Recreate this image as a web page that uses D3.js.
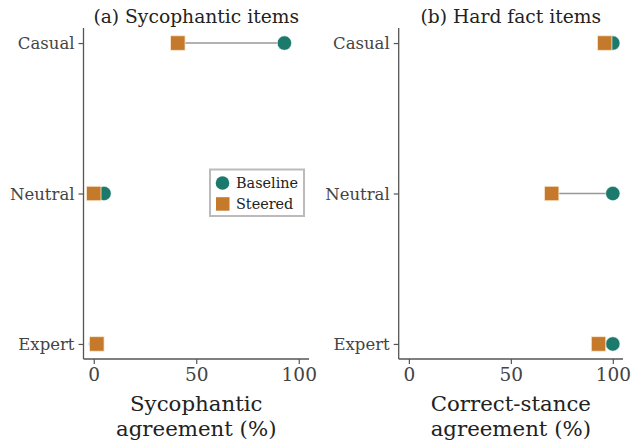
<!DOCTYPE html>
<html><head><meta charset="utf-8">
<script src="https://cdn.jsdelivr.net/npm/d3@7"></script>
<style>body{margin:0;background:#fff}</style>
</head><body><svg id="c" width="639" height="441"></svg>
<script>
const categories = ["Casual", "Neutral", "Expert"];
const sycBaseline = [93, 5, 1];
const sycSteered = [41, 0, 1.5];
const hardBaseline = [100, 100, 100];
const hardSteered = [96, 70, 93];
const xTicks = [0, 50, 100];
const panelTitles = ["(a) Sycophantic items", "(b) Hard fact items"];
const xLabels = [["Sycophantic", "agreement (%)"], ["Correct-stance", "agreement (%)"]];
const seriesNames = ["Baseline", "Steered"];

const colBase = "#1b7a6b", colSteer = "#c4792b";
const font = "DejaVu Serif, serif";
const svg = d3.select("#c");

const panels = [
  {x0: 83.5, x1: 309, base: sycBaseline, steer: sycSteered, legend: true},
  {x0: 398.7, x1: 623, base: hardBaseline, steer: hardSteered, legend: false}
];
const yTop = 28, yBot = 359;

panels.forEach((p, i) => {
  const x = d3.scaleLinear().domain([-5, 105]).range([p.x0, p.x1]);
  const y = d3.scalePoint().domain(categories).range([yTop, yBot]).padding(0.1);
  const g = svg.append("g");

  const ax = g.append("g").attr("transform", `translate(0,${yBot})`)
    .call(d3.axisBottom(x).tickValues(xTicks).tickSize(5).tickPadding(4));
  const ay = g.append("g").attr("transform", `translate(${p.x0},0)`)
    .call(d3.axisLeft(y).tickSize(5).tickPadding(4));
  [ax, ay].forEach(a => {
    a.select(".domain").attr("stroke", "#555").attr("stroke-width", 1.3);
    a.selectAll(".tick line").attr("stroke", "#555").attr("stroke-width", 1.2);
    a.selectAll("text").attr("font-family", font).attr("fill", "#444");
  });
  ax.select(".domain").attr("d", `M${p.x0},0H${p.x1}`);
  ay.select(".domain").attr("d", `M0,${yTop}V${yBot}`);
  ax.selectAll("text").attr("font-size", 18.5);
  ay.selectAll("text").attr("font-size", 16.5).attr("dy", "0.35em");

  g.selectAll(".conn").data(categories).join("line")
    .attr("x1", (d, k) => x(p.steer[k])).attr("x2", (d, k) => x(p.base[k]))
    .attr("y1", d => y(d)).attr("y2", d => y(d))
    .attr("stroke", "#999").attr("stroke-width", 1.5);

  g.selectAll(".base").data(categories).join("circle")
    .attr("cx", (d, k) => x(p.base[k])).attr("cy", d => y(d)).attr("r", 7.2)
    .attr("fill", colBase).attr("stroke", "#fff").attr("stroke-width", 0.6);
  const s = 14.5;
  g.selectAll(".steer").data(categories).join("rect")
    .attr("x", (d, k) => x(p.steer[k]) - s / 2).attr("y", d => y(d) - s / 2)
    .attr("width", s).attr("height", s)
    .attr("fill", colSteer).attr("stroke", "#fbe9d6").attr("stroke-width", 0.8);

  const cx = (p.x0 + p.x1) / 2;
  g.append("text").attr("x", cx).attr("y", 23).attr("text-anchor", "middle")
    .attr("font-family", font).attr("font-size", 18.7).attr("fill", "#222").text(panelTitles[i]);
  xLabels[i].forEach((t, j) => {
    g.append("text").attr("x", cx).attr("y", 410.5 + j * 25).attr("text-anchor", "middle")
      .attr("font-family", font).attr("font-size", 21.3).attr("fill", "#222").text(t);
  });

  if (p.legend) {
    const lg = g.append("g");
    lg.append("rect").attr("x", 210).attr("y", 169.5).attr("width", 94).attr("height", 46.5)
      .attr("fill", "#fff").attr("stroke", "#bbb").attr("stroke-width", 2);
    seriesNames.forEach((n, k) => {
      const yy = 183 + k * 21;
      if (k === 0) lg.append("circle").attr("cx", 222.5).attr("cy", yy).attr("r", 6.8).attr("fill", colBase);
      else lg.append("rect").attr("x", 216).attr("y", yy - 6.8).attr("width", 13.5).attr("height", 13.5).attr("fill", colSteer);
      lg.append("text").attr("x", 236).attr("y", yy + 5).attr("font-family", font)
        .attr("font-size", 14.4).attr("fill", "#222").text(n);
    });
  }
});
</script></body></html>
